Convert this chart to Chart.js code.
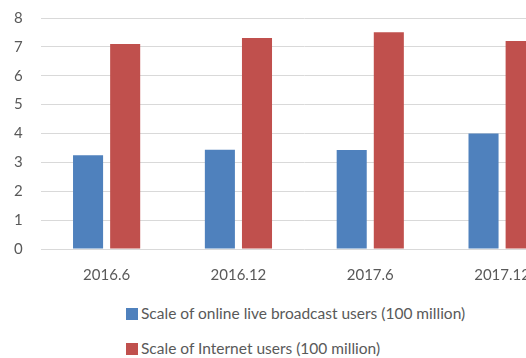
<!DOCTYPE html>
<html>
<head>
<meta charset="utf-8">
<script src="https://cdn.jsdelivr.net/npm/chart.js@4/dist/chart.umd.min.js"></script>
<style>
  html, body { margin: 0; padding: 0; background: #fff; overflow: hidden; }
  #wrap { position: relative; width: 526px; height: 358px; overflow: hidden; }
  #box { position: absolute; left: -17px; top: -9px; width: 598px; height: 306px; }
  #legend { position: absolute; left: 126px; top: 303px; font-family: Lato, "Open Sans", sans-serif; font-size: 15.5px; color: #595959; }
  .item { height: 35px; line-height: 20px; white-space: nowrap; }
  .sw { display: inline-block; width: 12px; height: 12px; margin-right: 3px; vertical-align: -1px; }
</style>
</head>
<body>
<div id="wrap">
  <div id="box"><canvas id="chart" width="598" height="306"></canvas></div>
  <div id="legend"></div>
</div>
<script>
const periods = ["2016.6", "2016.12", "2017.6", "2017.12"];
const liveUsers = [3.25, 3.44, 3.43, 4.0];
const netUsers = [7.1, 7.31, 7.51, 7.2];
const seriesNames = [
  "Scale of online live broadcast users (100 million)",
  "Scale of Internet users (100 million)"
];
const seriesColors = ["#4f81bd", "#c0504d"];

let datasets = [liveUsers, netUsers].map((vals, i) => ({
  label: seriesNames[i],
  data: vals,
  backgroundColor: seriesColors[i],
  categoryPercentage: 0.563,
  barPercentage: 0.81
}));

new Chart(document.getElementById("chart"), {
  type: "bar",
  data: { labels: periods, datasets: datasets },
  options: {
    responsive: false,
    animation: false,
    layout: { padding: { left: 13, right: 13, top: 16, bottom: 4 } },
    plugins: {
      legend: { display: false },
      tooltip: { enabled: false }
    },
    scales: {
      x: {
        grid: { display: false },
        border: { display: false },
        ticks: {
          color: "#595959",
          padding: 9,
          font: { family: "Lato", size: 15 }
        }
      },
      y: {
        min: 0,
        max: 8,
        grid: { color: "#d9d9d9", drawTicks: false },
        border: { display: false },
        ticks: {
          stepSize: 1,
          color: "#595959",
          padding: 18,
          font: { family: "Lato", size: 15 }
        }
      }
    }
  }
});

// legend stacked in two rows, like the original
let legend = document.getElementById("legend");
seriesNames.forEach((name, i) => {
  let row = document.createElement("div");
  row.className = "item";
  row.innerHTML = '<span class="sw" style="background:' + seriesColors[i] + '"></span>' + name;
  legend.appendChild(row);
});
</script>
</body>
</html>
